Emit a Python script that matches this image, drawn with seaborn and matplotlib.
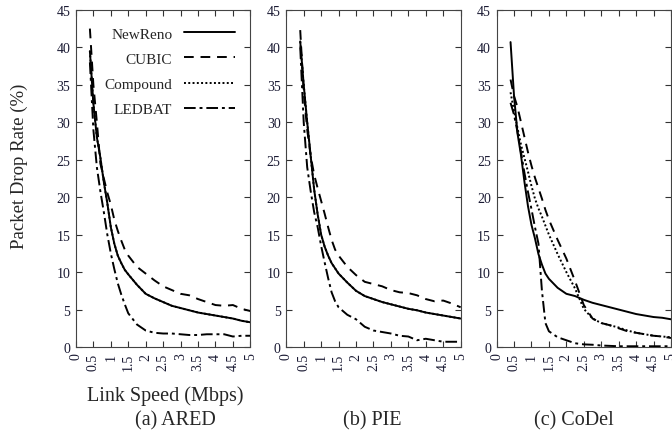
import matplotlib
matplotlib.use("Agg")
import matplotlib.pyplot as plt
import seaborn as sns

# link speeds (Mbps) at which the curves were read
speeds = [0.4, 0.5, 0.6, 0.7, 0.8, 0.9, 1.0, 1.1, 1.2, 1.3, 1.4, 1.5,
          1.75, 2.0, 2.25, 2.5, 2.75, 3.0, 3.25, 3.5, 3.75, 4.0, 4.25, 4.5, 4.75, 5.0]

protocols = ['NewReno', 'CUBIC', 'Compound', 'LEDBAT']
panel_titles = ['(a) ARED', '(b) PIE', '(c) CoDel']

# (a) ARED
ared_newreno = [39.5, 32.5, 28, 25.3, 22, 19.2, 16, 13.8, 12.2, 11.2, 10.3, 9.7,
                8.3, 7.1, 6.5, 6.0, 5.5, 5.2, 4.9, 4.6, 4.4, 4.2, 4.0, 3.8, 3.5, 3.3]
ared_cubic = [42.5, 35, 30, 24.5, 22.5, 20.6, 19, 17, 15.5, 14.2, 13, 12.2,
              10.7, 9.8, 8.9, 8.1, 7.6, 7.1, 6.9, 6.4, 6.0, 5.6, 5.5, 5.6, 5.1, 4.8]
ared_compound = [39.5, 32.5, 28, 25.3, 22, 19.2, 16, 13.8, 12.2, 11.2, 10.3, 9.7,
                 8.3, 7.1, 6.5, 6.0, 5.5, 5.2, 4.9, 4.6, 4.4, 4.2, 4.0, 3.8, 3.5, 3.3]
ared_ledbat = [38, 29, 24, 20.8, 18, 15, 12.5, 10.4, 8.5, 7.0, 5.7, 4.5,
               3.0, 2.2, 1.9, 1.8, 1.8, 1.7, 1.6, 1.6, 1.7, 1.7, 1.7, 1.4, 1.5, 1.5]

# (b) PIE
pie_newreno = [40.8, 35, 30, 25.5, 21, 17.7, 15, 13.4, 12.2, 11.2, 10.5, 9.8,
               8.6, 7.5, 6.8, 6.4, 6.0, 5.7, 5.4, 5.1, 4.9, 4.6, 4.4, 4.2, 4.0, 3.8]
pie_cubic = [42.3, 34, 29, 25.5, 23, 21.2, 19.5, 17.8, 16, 14.3, 13, 12.2,
             10.7, 9.6, 8.7, 8.4, 8.1, 7.6, 7.3, 7.2, 6.9, 6.4, 6.1, 6.2, 5.8, 5.3]
pie_compound = [40.8, 35, 30, 25.5, 21, 17.7, 15, 13.4, 12.2, 11.2, 10.5, 9.8,
                8.6, 7.5, 6.8, 6.4, 6.0, 5.7, 5.4, 5.1, 4.9, 4.6, 4.4, 4.2, 4.0, 3.8]
pie_ledbat = [40, 30, 24, 20.8, 18, 16, 13.5, 11.3, 9.2, 7.3, 6.1, 5.3,
              4.3, 3.7, 2.7, 2.2, 2.0, 1.8, 1.5, 1.4, 0.9, 1.1, 0.9, 0.7, 0.7, 0.7]

# (c) CoDel
codel_newreno = [40.7, 33.5, 28.5, 25.6, 22, 18.8, 16.3, 14.5, 12.4, 11, 9.8, 9.1,
                 7.9, 7.1, 6.8, 6.3, 5.9, 5.6, 5.3, 5.0, 4.7, 4.4, 4.2, 4.0, 3.9, 3.7]
codel_cubic = [35.7, 33.5, 32, 30, 28, 26, 24.2, 22.6, 21.2, 19.8, 18.3, 17,
               14.3, 11.8, 8.8, 5.6, 3.8, 3.2, 2.9, 2.5, 2.1, 1.9, 1.7, 1.5, 1.4, 1.2]
codel_compound = [34, 31.5, 29.2, 27, 25.2, 23.4, 21.5, 19.8, 18.5, 17.4, 16.2, 15,
                  12.4, 10, 7.8, 5.1, 3.8, 3.2, 2.9, 2.6, 2.2, 1.9, 1.7, 1.5, 1.4, 1.3]
codel_ledbat = [32.6, 31, 28.7, 26, 23.2, 20.7, 18.4, 16, 13.8, 7.5, 3.2, 2.1,
                1.3, 0.9, 0.5, 0.35, 0.3, 0.2, 0.15, 0.1, 0.1, 0.1, 0.1, 0.1, 0.1, 0.1]

panels = [
    [ared_newreno, ared_cubic, ared_compound, ared_ledbat],
    [pie_newreno, pie_cubic, pie_compound, pie_ledbat],
    [codel_newreno, codel_cubic, codel_compound, codel_ledbat],
]

styles = {
    'NewReno': dict(linestyle='-', zorder=4),
    'CUBIC': dict(linestyle=(0, (5, 3.5)), zorder=3),
    'Compound': dict(linestyle=(0, (1, 1.2)), zorder=2),
    'LEDBAT': dict(linestyle=(0, (6, 2, 1.5, 2)), zorder=3),
}

sns.set_style("ticks")
plt.rcParams['font.family'] = ['Liberation Serif', 'DejaVu Serif']
tick_color = '#1a1a33'

fig, axes = plt.subplots(1, 3, figsize=(6.72, 4.35), dpi=100)
fig.subplots_adjust(left=0.113, right=0.9985, bottom=0.2, top=0.975, wspace=0.206)

for ax, series in zip(axes, panels):
    for name, vals in zip(protocols, series):
        sns.lineplot(x=speeds, y=vals, ax=ax, color='black', linewidth=1.4,
                     label=name, legend=False, **styles[name])
    ax.set_xlim(0, 5)
    ax.set_ylim(0, 45)
    ax.set_xticks([i * 0.5 for i in range(11)])
    ax.set_xticklabels(['0', '0.5', '1', '1.5', '2', '2.5', '3', '3.5', '4', '4.5', '5'],
                       rotation=90)
    ax.set_yticks(range(0, 46, 5))
    ax.tick_params(direction='in', top=True, right=True, length=4, width=0.8,
                   labelsize=10, labelcolor=tick_color, color='#333333', pad=4)
    for sp in ax.spines.values():
        sp.set_color('#444444')
        sp.set_linewidth(0.8)
    ax.set_xlabel('')
    ax.set_ylabel('')

# legend inside the first panel, text left of the sample line
handles, labels = axes[0].get_legend_handles_labels()
axes[0].legend(handles, labels, loc='upper right', markerfirst=False, frameon=False,
               fontsize=11, handlelength=3.3, labelspacing=0.75,
               bbox_to_anchor=(0.99, 0.99), handletextpad=0.8)

fig.text(19 / 672, 1 - 166 / 435, 'Packet Drop Rate (%)', rotation=90,
         ha='center', va='center', fontsize=13.5)
fig.text(165 / 672, 1 - 396 / 435, 'Link Speed (Mbps)', ha='center', va='center', fontsize=14.5)
for x_px, title in zip([175, 372, 574], panel_titles):
    fig.text(x_px / 672, 1 - 421 / 435, title, ha='center', va='center', fontsize=14.5)

plt.savefig('out.png', dpi=100)
